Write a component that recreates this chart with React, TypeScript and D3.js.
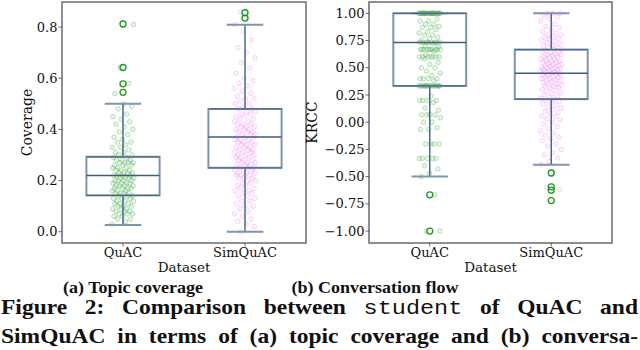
import * as d3 from 'd3';
import React, { useLayoutEffect, useRef } from 'react';

// data
const categories = ['QuAC', 'SimQuAC'];

// coverage box stats [whiskerLow, q1, median, q3, whiskerHigh]
const coverageBoxQuAC = [0.026, 0.142, 0.22, 0.293, 0.5];
const coverageBoxSim = [0.0, 0.25, 0.37, 0.48, 0.809];
const coverageOutliersQuAC = [0.545, 0.578, 0.642, 0.812];
const coverageOutliersSim = [0.835, 0.856];

const coveragePointsQuAC = [
  0.03, 0.04, 0.05, 0.05, 0.06, 0.06, 0.07, 0.07, 0.07, 0.08, 0.08, 0.08, 0.09, 0.09, 0.09, 0.1, 0.1, 0.1,
  0.11, 0.11, 0.11, 0.12, 0.12, 0.12, 0.13, 0.13, 0.13, 0.14, 0.14, 0.14, 0.15, 0.15, 0.15, 0.15, 0.16,
  0.16, 0.16, 0.17, 0.17, 0.17, 0.17, 0.18, 0.18, 0.18, 0.18, 0.19, 0.19, 0.19, 0.19, 0.2, 0.2, 0.2, 0.2,
  0.21, 0.21, 0.21, 0.21, 0.22, 0.22, 0.22, 0.22, 0.23, 0.23, 0.23, 0.23, 0.24, 0.24, 0.24, 0.25, 0.25,
  0.25, 0.26, 0.26, 0.26, 0.27, 0.27, 0.27, 0.27, 0.28, 0.28, 0.28, 0.29, 0.29, 0.3, 0.3, 0.31, 0.31, 0.32,
  0.33, 0.33, 0.34, 0.35, 0.35, 0.36, 0.37, 0.38, 0.39, 0.4, 0.41, 0.42, 0.43, 0.44, 0.45, 0.46, 0.48, 0.49,
  0.5, 0.54, 0.58, 0.64, 0.81,
];
const coveragePointsSim = [
  0.0, 0.02, 0.03, 0.04, 0.05, 0.06, 0.07, 0.08, 0.09, 0.1, 0.1, 0.11, 0.12, 0.12, 0.13, 0.14, 0.14, 0.15,
  0.15, 0.16, 0.16, 0.17, 0.17, 0.18, 0.18, 0.19, 0.19, 0.2, 0.2, 0.21, 0.21, 0.21, 0.22, 0.22, 0.22, 0.23,
  0.23, 0.23, 0.24, 0.24, 0.24, 0.25, 0.25, 0.25, 0.26, 0.26, 0.26, 0.27, 0.27, 0.27, 0.28, 0.28, 0.28,
  0.29, 0.29, 0.29, 0.3, 0.3, 0.3, 0.31, 0.31, 0.31, 0.32, 0.32, 0.32, 0.33, 0.33, 0.33, 0.34, 0.34, 0.34,
  0.35, 0.35, 0.35, 0.36, 0.36, 0.36, 0.37, 0.37, 0.37, 0.38, 0.38, 0.38, 0.39, 0.39, 0.39, 0.4, 0.4, 0.4,
  0.41, 0.41, 0.41, 0.42, 0.42, 0.42, 0.43, 0.43, 0.44, 0.44, 0.45, 0.45, 0.46, 0.46, 0.47, 0.47, 0.48,
  0.48, 0.49, 0.5, 0.5, 0.51, 0.52, 0.52, 0.53, 0.54, 0.55, 0.56, 0.57, 0.58, 0.59, 0.6, 0.62, 0.64, 0.66,
  0.68, 0.7, 0.72, 0.75, 0.78, 0.81, 0.83, 0.86,
];

// KRCC box stats
const krccBoxQuAC = [-0.5, 0.333, 0.733, 1.0, 1.0];
const krccBoxSim = [-0.39, 0.212, 0.45, 0.667, 1.0];
const krccOutliersQuAC = [-0.667, -1.0];
const krccOutliersSim = [-0.467, -0.594, -0.625, -0.72];

const krccPointsQuAC = [
  1, 1, 1, 1, 1, 1, 1, 1, 1, 1, 1, 1, 1, 1, 1, 1, 1, 1, 1, 1, 1, 1, 1, 1, 0.95, 0.93, 0.93, 0.9, 0.9,
  0.88, 0.87, 0.87, 0.85, 0.83, 0.82, 0.8, 0.8, 0.78, 0.77, 0.75, 0.733, 0.733, 0.733, 0.733, 0.733,
  0.733, 0.733, 0.733, 0.72, 0.7, 0.69, 0.667, 0.667, 0.667, 0.667, 0.667, 0.667, 0.667, 0.667, 0.667,
  0.667, 0.65, 0.62, 0.6, 0.6, 0.6, 0.6, 0.6, 0.6, 0.6, 0.58, 0.55, 0.53, 0.5, 0.5, 0.47, 0.45, 0.43, 0.4,
  0.4, 0.4, 0.4, 0.38, 0.333, 0.333, 0.333, 0.333, 0.333, 0.333, 0.333, 0.333, 0.333, 0.333, 0.333,
  0.333, 0.333, 0.333, 0.333, 0.24, 0.2, 0.2, 0.2, 0.2, 0.18, 0.13, 0.11, 0.07, 0.067, 0.067, 0.067,
  0.04, 0.0, 0.0, -0.05, -0.067, -0.067, -0.2, -0.2, -0.2, -0.2, -0.333, -0.333, -0.333, -0.333, -0.333,
  -0.4, -0.43, -0.47, -0.5, -0.667, -1.0, -1.0,
];
const krccPointsSim = [
  1, 1, 1, 0.98, 0.97, 0.95, 0.93, 0.9, 0.88, 0.87, 0.85, 0.83, 0.82, 0.8, 0.8, 0.79, 0.78, 0.77, 0.76,
  0.75, 0.74, 0.73, 0.72, 0.71, 0.7, 0.69, 0.68, 0.67, 0.67, 0.66, 0.65, 0.64, 0.64, 0.63, 0.62, 0.62,
  0.61, 0.6, 0.6, 0.59, 0.58, 0.58, 0.57, 0.56, 0.56, 0.55, 0.55, 0.54, 0.53, 0.53, 0.52, 0.52, 0.51,
  0.5, 0.5, 0.5, 0.49, 0.49, 0.48, 0.48, 0.47, 0.47, 0.46, 0.46, 0.45, 0.45, 0.44, 0.44, 0.43, 0.43,
  0.42, 0.42, 0.41, 0.4, 0.4, 0.39, 0.38, 0.38, 0.37, 0.36, 0.35, 0.35, 0.34, 0.33, 0.33, 0.32, 0.31,
  0.3, 0.29, 0.28, 0.27, 0.26, 0.25, 0.24, 0.23, 0.22, 0.21, 0.2, 0.19, 0.18, 0.17, 0.16, 0.14, 0.13,
  0.12, 0.1, 0.09, 0.08, 0.06, 0.05, 0.03, 0.02, 0.0, -0.02, -0.04, -0.06, -0.08, -0.1, -0.12, -0.14,
  -0.15, -0.17, -0.2, -0.22, -0.25, -0.28, -0.3, -0.33, -0.36, -0.39, -0.47, -0.6, -0.62,
];

const coverageTicks = [0.0, 0.2, 0.4, 0.6, 0.8];
const krccTicks = [-1.0, -0.75, -0.5, -0.25, 0.0, 0.25, 0.5, 0.75, 1.0];

const GREEN = '#2ca02c';
const VIOLET = '#ee82ee';
const FONT = "'DejaVu Serif', serif";
const CAP_FONT = "'Liberation Serif', 'DejaVu Serif', serif";

type PanelProps = {
  left: number;
  right: number;
  domain: [number, number];
  ticks: number[];
  tickFormat: (v: number) => string;
  yLabel: string;
  yLabelX: number;
  boxes: number[][];
  outliers: number[][];
  points: number[][];
};

const top = 2;
const bottom = 243;

function Panel(p: PanelProps) {
  const x = d3.scaleBand().domain(categories).range([p.left, p.right]).padding(0);
  const y = d3.scaleLinear().domain(p.domain).range([bottom, top]);
  const bw = x.bandwidth();
  const boxW = bw * 0.6;
  const jit = bw * 0.09;
  const colors = [GREEN, VIOLET];
  return (
    <g>
      {/* strip points */}
      {categories.map((c, ci) => {
        const cx = x(c)! + bw / 2;
        return p.points[ci].map((v, i) => {
          const f = ((i * 0.6180339 + ci * 0.31) % 1) - 0.5;
          return (
            <circle
              key={c + i}
              cx={cx + f * 2 * jit}
              cy={y(v)}
              r={2.3}
              fill={colors[ci]}
              fillOpacity={0.1}
              stroke={colors[ci]}
              strokeOpacity={0.32}
              strokeWidth={0.9}
            />
          );
        });
      })}
      {/* boxes */}
      {categories.map((c, ci) => {
        const cx = x(c)! + bw / 2;
        const [lo, q1, med, q3, hi] = p.boxes[ci];
        return (
          <g key={'b' + c}>
            <line x1={cx} x2={cx} y1={y(q1)} y2={y(lo)} stroke="#4a6a8c" strokeWidth={1.5} />
            <line x1={cx} x2={cx} y1={y(q3)} y2={y(hi)} stroke="#4a6a8c" strokeWidth={1.5} />
            <line x1={cx - boxW / 4} x2={cx + boxW / 4} y1={y(lo)} y2={y(lo)} stroke="#7f95ae" strokeWidth={2} />
            <line x1={cx - boxW / 4} x2={cx + boxW / 4} y1={y(hi)} y2={y(hi)} stroke="#7f95ae" strokeWidth={2} />
            <rect
              x={cx - boxW / 2}
              y={y(q3)}
              width={boxW}
              height={y(q1) - y(q3)}
              fill="none"
              stroke="#7f95ae"
              strokeWidth={2}
            />
            <line x1={cx - boxW / 2} x2={cx + boxW / 2} y1={y(q1)} y2={y(q1)} stroke="#4d6a8a" strokeWidth={1.3} />
            <line x1={cx - boxW / 2} x2={cx + boxW / 2} y1={y(q3)} y2={y(q3)} stroke="#4d6a8a" strokeWidth={1.3} />
            <line x1={cx - boxW / 2} x2={cx + boxW / 2} y1={y(med)} y2={y(med)} stroke="#3f5c7d" strokeWidth={1.5} />
            {p.outliers[ci].map((v, i) => (
              <circle key={i} cx={cx} cy={y(v)} r={3} fill="none" stroke="#1f9a1f" strokeWidth={1.3} />
            ))}
          </g>
        );
      })}
      {/* frame */}
      <rect x={p.left} y={top} width={p.right - p.left} height={bottom - top} fill="none" stroke="#6b6b6b" strokeWidth={1.5} />
      {/* y axis */}
      {p.ticks.map((t) => (
        <g key={t}>
          <line x1={p.left - 3.5} x2={p.left} y1={y(t)} y2={y(t)} stroke="#444" strokeWidth={0.8} />
          <text x={p.left - 4.5} y={y(t)} dy="0.36em" textAnchor="end" fontSize={13} fontFamily={FONT} fill="#111">
            {p.tickFormat(t)}
          </text>
        </g>
      ))}
      {/* x axis */}
      {categories.map((c) => (
        <g key={'x' + c}>
          <line x1={x(c)! + bw / 2} x2={x(c)! + bw / 2} y1={bottom} y2={bottom + 3.5} stroke="#444" strokeWidth={0.8} />
          <text x={x(c)! + bw / 2} y={256.5} textAnchor="middle" fontSize={13} fontFamily={FONT} fill="#111">
            {c}
          </text>
        </g>
      ))}
      <text x={(p.left + p.right) / 2} y={271.5} textAnchor="middle" fontSize={13.5} fontFamily={FONT} fill="#111">
        Dataset
      </text>
      <text
        transform={`translate(${p.yLabelX},${(top + bottom) / 2}) rotate(-90)`}
        textAnchor="middle"
        fontSize={14}
        fontFamily={FONT}
        fill="#111"
      >
        {p.yLabel}
      </text>
    </g>
  );
}

// caption line: glyphs widened a little, then stretched to full width by word spacing
const STRETCH = 1.12;
function JustifiedLine({ y, width, children }: { y: number; width: number; children: React.ReactNode }) {
  const ref = useRef<SVGTextElement>(null);
  useLayoutEffect(() => {
    const el = ref.current;
    if (!el) return;
    el.setAttribute('word-spacing', '0');
    const natural = el.getComputedTextLength();
    const gaps = (el.textContent || '').trim().split(/\s+/).length - 1;
    if (gaps > 0) el.setAttribute('word-spacing', String(Math.max(0, (width / STRETCH - natural) / gaps)));
  });
  return (
    <text
      ref={ref}
      transform={`translate(1,${y}) scale(${STRETCH},1)`}
      fontSize={21}
      fontWeight="bold"
      fontFamily={CAP_FONT}
      fill="#111"
      style={{ whiteSpace: 'pre' }}
    >
      {children}
    </text>
  );
}

export default function App() {
  return (
    <svg width={640} height={350} style={{ position: 'absolute', left: 0, top: 0, background: '#fff' }}>
      <rect width={640} height={350} fill="#fff" />
      <Panel
        left={62}
        right={306}
        domain={[-0.044, 0.898]}
        ticks={coverageTicks}
        tickFormat={d3.format('.1f')}
        yLabel="Coverage"
        yLabelX={32}
        boxes={[coverageBoxQuAC, coverageBoxSim]}
        outliers={[coverageOutliersQuAC, coverageOutliersSim]}
        points={[coveragePointsQuAC, coveragePointsSim]}
      />
      <Panel
        left={369}
        right={612}
        domain={[-1.11, 1.104]}
        ticks={krccTicks}
        tickFormat={d3.format('.2f')}
        yLabel="KRCC"
        yLabelX={317}
        boxes={[krccBoxQuAC, krccBoxSim]}
        outliers={[krccOutliersQuAC, krccOutliersSim]}
        points={[krccPointsQuAC, krccPointsSim]}
      />
      <text x={133} y={293} textAnchor="middle" fontSize={16} fontWeight="bold" fontFamily={CAP_FONT} fill="#111" textLength={140} lengthAdjust="spacingAndGlyphs">
        (a) Topic coverage
      </text>
      <text x={375} y={293} textAnchor="middle" fontSize={16} fontWeight="bold" fontFamily={CAP_FONT} fill="#111" textLength={167} lengthAdjust="spacingAndGlyphs">
        (b) Conversation flow
      </text>
      <JustifiedLine y={313.5} width={637}>
        {'Figure 2: Comparison between '}
        <tspan fontFamily="'Liberation Mono', monospace" fontWeight="normal">student</tspan>
        {' of QuAC and'}
      </JustifiedLine>
      <JustifiedLine y={343} width={637}>
        {'SimQuAC in terms of (a) topic coverage and (b) conversa-'}
      </JustifiedLine>
    </svg>
  );
}
